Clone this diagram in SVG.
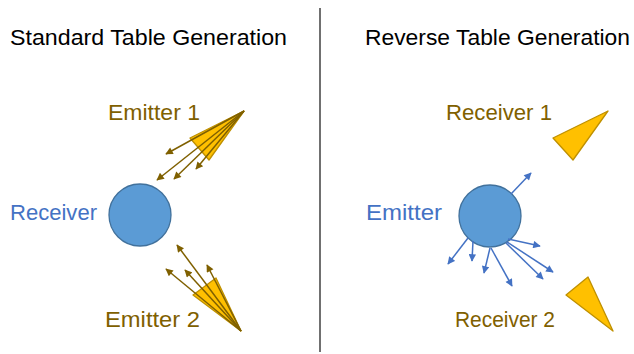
<svg xmlns="http://www.w3.org/2000/svg" width="634" height="354" viewBox="0 0 634 354">
<defs>
<marker id="ab" viewBox="0 0 10 10" refX="9" refY="5" markerWidth="6" markerHeight="5" orient="auto" markerUnits="strokeWidth"><path d="M0,0 L10,5 L0,10 z" fill="#7F6000"/></marker>
<marker id="ablue" viewBox="0 0 10 10" refX="9" refY="5" markerWidth="6" markerHeight="5" orient="auto" markerUnits="strokeWidth"><path d="M0,0 L10,5 L0,10 z" fill="#4472C4"/></marker>
</defs>
<style>
text{font-family:"Liberation Sans",Arial,sans-serif;}
.title{font-size:22px;fill:#000;}
.brown{font-size:22px;fill:#7F6000;}
.blue{font-size:22px;fill:#4472C4;}
.circle{fill:#5B9BD5;stroke:#41719C;stroke-width:1.3;}
.cone{fill:#FFC000;stroke:#BF9000;stroke-width:1.3;stroke-linejoin:round;}
.ba{stroke:#7F6000;stroke-width:1.5;fill:none;marker-end:url(#ab);}
.bl{stroke:#4472C4;stroke-width:1.5;fill:none;marker-end:url(#ablue);}
</style>
<rect width="634" height="354" fill="#fff"/>
<line x1="320" y1="8" x2="320" y2="352" stroke="#404040" stroke-width="1.5"/>
<text class="title" x="10" y="45" textLength="277" lengthAdjust="spacingAndGlyphs">Standard Table Generation</text>
<text class="title" x="365" y="45" textLength="265" lengthAdjust="spacingAndGlyphs">Reverse Table Generation</text>

<g id="receiver-left">
<circle class="circle" cx="140" cy="215" r="31"/>
<text class="blue" x="10" y="220" textLength="87" lengthAdjust="spacingAndGlyphs">Receiver</text>
</g>
<g id="emitter1">
<polygon class="cone" points="244,111 190,138 209,160"/>
<text class="brown" x="108" y="120" textLength="92" lengthAdjust="spacingAndGlyphs">Emitter 1</text>
</g>
<g id="emitter2">
<polygon class="cone" points="241,331 193,295 216,278"/>
<text class="brown" x="105" y="327" textLength="95" lengthAdjust="spacingAndGlyphs">Emitter 2</text>
</g>
<g id="emitter-right">
<circle class="circle" cx="490" cy="216" r="31"/>
<text class="blue" x="366" y="220" textLength="76" lengthAdjust="spacingAndGlyphs">Emitter</text>
</g>
<g id="receiver1">
<polygon class="cone" points="608,111 553,138 573,160"/>
<text class="brown" x="446" y="120" textLength="106" lengthAdjust="spacingAndGlyphs">Receiver 1</text>
</g>
<g id="receiver2">
<polygon class="cone" points="588,277 566,295 613,331"/>
<text class="brown" x="455" y="327" textLength="100" lengthAdjust="spacingAndGlyphs">Receiver 2</text>
</g>

<g id="connectors">
<line class="ba" x1="244" y1="111" x2="166" y2="154"/>
<line class="ba" x1="244" y1="111" x2="157" y2="180"/>
<line class="ba" x1="244" y1="111" x2="174" y2="179"/>
<line class="ba" x1="244" y1="111" x2="196" y2="169"/>
<line class="ba" x1="241" y1="331" x2="177" y2="245"/>
<line class="ba" x1="241" y1="331" x2="166" y2="269"/>
<line class="ba" x1="241" y1="331" x2="185" y2="270"/>
<line class="ba" x1="241" y1="331" x2="207" y2="265"/>
<line class="bl" x1="511" y1="194" x2="531" y2="173"/>
<line class="bl" x1="468" y1="238" x2="448" y2="264"/>
<line class="bl" x1="473" y1="241" x2="472" y2="261"/>
<line class="bl" x1="490" y1="248" x2="484" y2="273"/>
<line class="bl" x1="491" y1="248" x2="512" y2="286"/>
<line class="bl" x1="508" y1="239" x2="540" y2="246"/>
<line class="bl" x1="507" y1="242" x2="553" y2="272"/>
<line class="bl" x1="506" y1="243" x2="543" y2="279"/>
</g>
</svg>
